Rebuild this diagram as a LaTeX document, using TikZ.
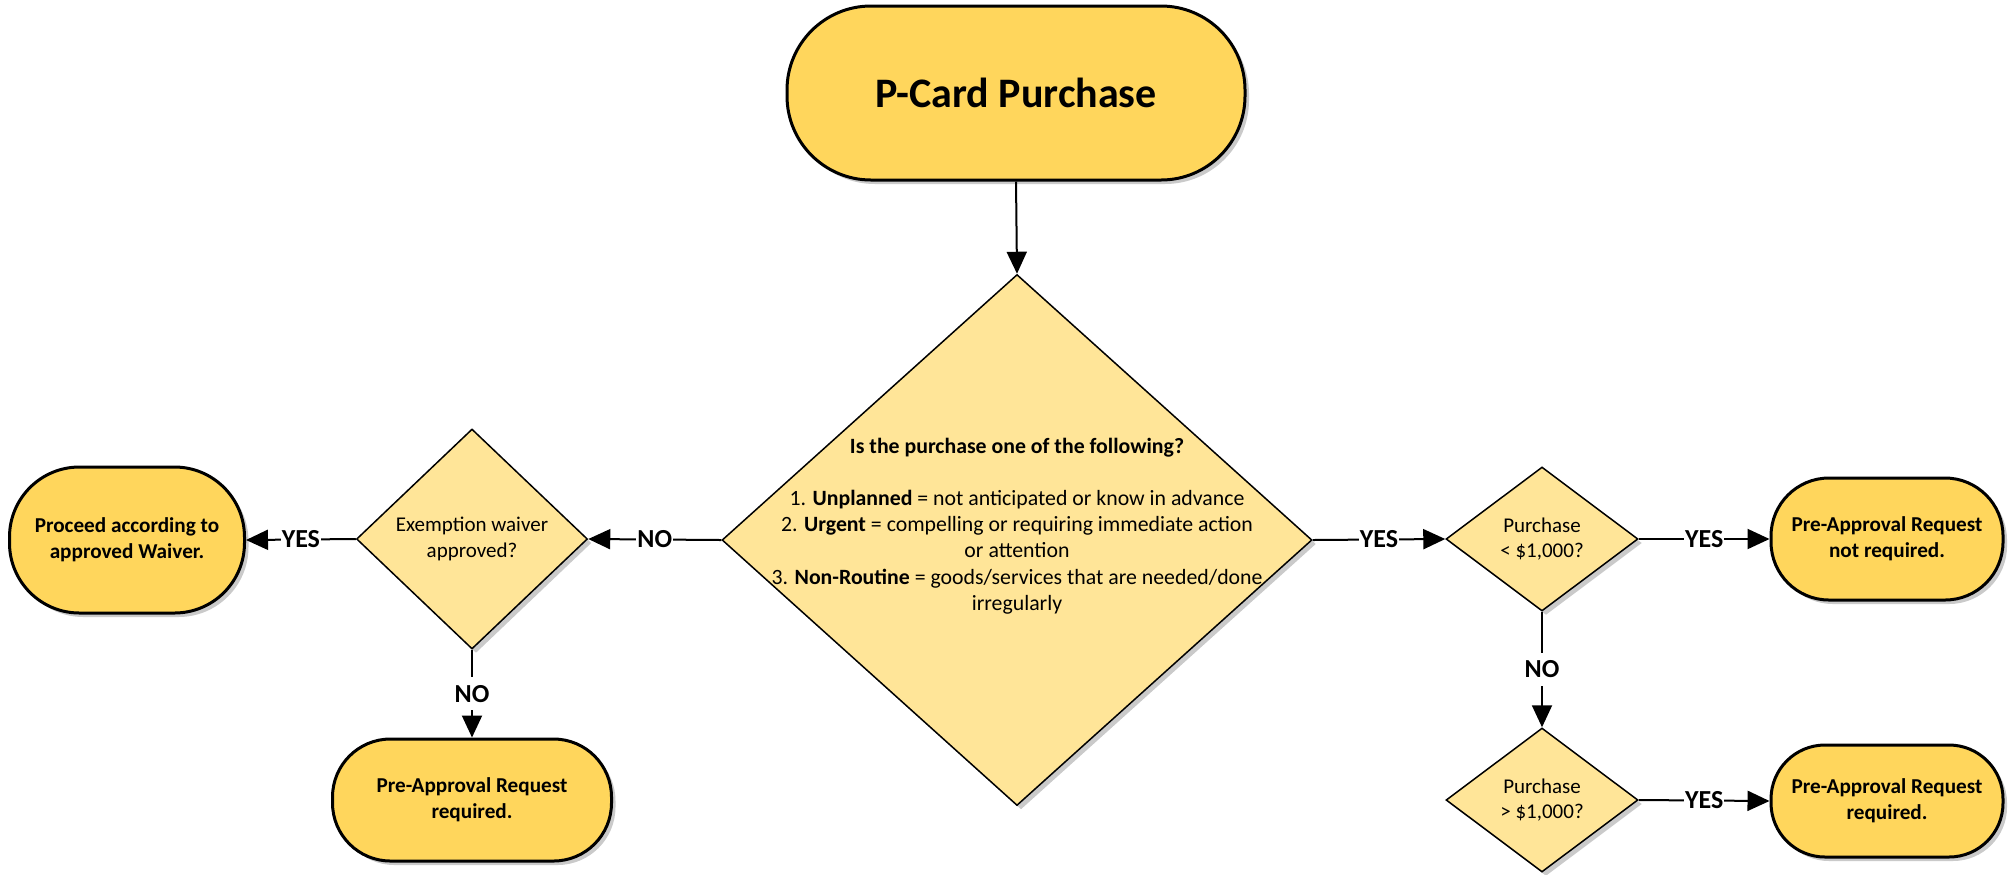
\documentclass[tikz,border=0pt]{standalone}
\usepackage{fontspec}
\setmainfont{Carlito}
\usetikzlibrary{shapes.geometric,arrows.meta,shadows}
\definecolor{termfill}{HTML}{FFD65C}
\definecolor{decfill}{HTML}{FFE598}
\begin{document}
\begin{tikzpicture}[x=0.5pt,y=-0.5pt,
  shad/.style={drop shadow={shadow xshift=2pt,shadow yshift=-2pt,opacity=0.35,fill=black!60}},
  term/.style={rectangle,draw=black,line width=1.5pt,fill=termfill,inner sep=0pt,align=center,
    font=\fontsize{10.6}{13}\selectfont\bfseries,shad},
  dec/.style={diamond,draw=black,line width=0.75pt,fill=decfill,inner sep=0pt,align=center,
    font=\fontsize{10.5}{12.9}\selectfont,shad},
  conn/.style={draw=black,line width=1pt,-{Triangle[length=11pt,width=10pt]}},
  lbl/.style={fill=white,inner xsep=0.5pt,inner ysep=4pt,font=\fontsize{13}{15}\selectfont\bfseries}]
\useasboundingbox (0,0) rectangle (2016,874);

% terminals
\node[term,minimum width=229pt,minimum height=87pt,rounded corners=42pt,
  font=\fontsize{21}{25}\selectfont\bfseries] (top) at (1016,93) {P-Card Purchase};
\node[term,minimum width=117.5pt,minimum height=73pt,rounded corners=35pt] (proc) at (127,540)
  {Proceed according to\\approved Waiver.};
\node[term,minimum width=139.5pt,minimum height=61pt,rounded corners=29pt] (pre1) at (472,800)
  {Pre-Approval Request\\required.};
\node[term,minimum width=116pt,minimum height=61pt,rounded corners=29pt] (nr) at (1887,539)
  {Pre-Approval Request\\not required.};
\node[term,minimum width=116pt,minimum height=56pt,rounded corners=27pt] (r2) at (1887,801)
  {Pre-Approval Request\\required.};

% decisions
\node[dec,minimum width=295pt,minimum height=265.5pt] (q1) at (1017,540) {};
\node[align=center,font=\fontsize{10.9}{13.1}\selectfont,inner sep=0pt] (q1t) at (1017,526)
  {\textbf{Is the purchase one of the following?}\\[13.1pt]
   1. \textbf{Unplanned} = not anticipated or know in advance\\
   2. \textbf{Urgent} = compelling or requiring immediate action\\
   or attention\\
   3. \textbf{Non-Routine} = goods/services that are needed/done\\
   irregularly};
\node[dec,minimum width=115.5pt,minimum height=110pt] (ex) at (472,539)
  {Exemption waiver\\approved?};
\node[dec,minimum width=96pt,minimum height=72pt] (lt) at (1542,539)
  {Purchase\\< \$1,000?};
\node[dec,minimum width=96pt,minimum height=72pt] (gt) at (1542,800)
  {Purchase\\> \$1,000?};

% connectors
\draw[conn] (top.south) -- (q1.north);
\draw[conn] (q1.west) -- node[lbl] {NO} (ex.east);
\draw[conn] (ex.west) -- node[lbl] {YES} (proc.east);
\draw[conn] (ex.south) -- node[lbl] {NO} (pre1.north);
\draw[conn] (q1.east) -- node[lbl] {YES} (lt.west);
\draw[conn] (lt.east) -- node[lbl] {YES} (nr.west);
\draw[conn] (lt.south) -- node[lbl] {NO} (gt.north);
\draw[conn] (gt.east) -- node[lbl] {YES} (r2.west);
\end{tikzpicture}
\end{document}
